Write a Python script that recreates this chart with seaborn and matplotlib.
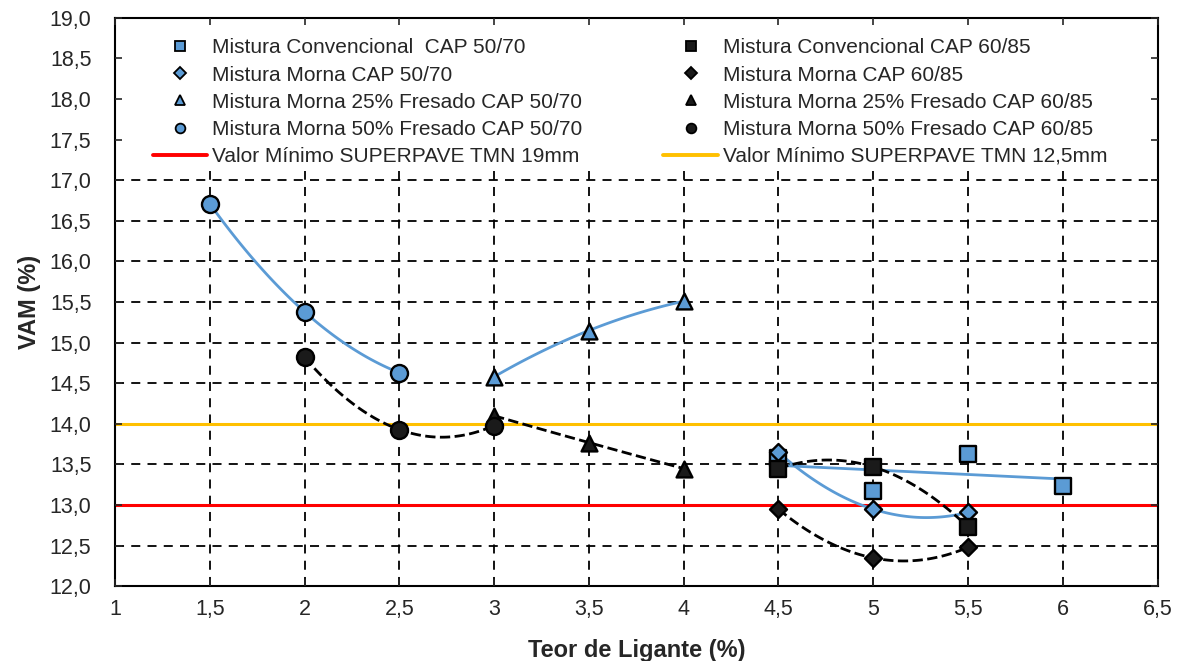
import numpy as np
import pandas as pd
import seaborn as sns
import matplotlib.pyplot as plt
from matplotlib.lines import Line2D
from matplotlib.patches import Rectangle
from matplotlib.ticker import FuncFormatter, MultipleLocator

# values
teor_conv_5070 = [4.5, 5, 5.5, 6]
vam_conv_5070 = [13.58, 13.17, 13.63, 13.24]
teor_5 = [4.5, 5, 5.5]
vam_conv_6085 = [13.45, 13.47, 12.73]
vam_morna_5070 = [13.65, 12.95, 12.91]
vam_morna_6085 = [12.95, 12.35, 12.48]
teor_25 = [3, 3.5, 4]
vam_25_5070 = [14.58, 15.15, 15.51]
vam_25_6085 = [14.10, 13.77, 13.45]
teor_50_5070 = [1.5, 2, 2.5]
vam_50_5070 = [16.71, 15.38, 14.63]
teor_50_6085 = [2, 2.5, 3]
vam_50_6085 = [14.82, 13.93, 13.98]

min_19mm = 13.0
min_125mm = 14.0

BLUE = "#5B9BD5"
DARK = "#1a1a1a"

sns.set_style("ticks")
plt.rcParams["font.family"] = ["Liberation Sans", "DejaVu Sans"]

fig, ax = plt.subplots(figsize=(11.86, 6.61), dpi=100)
plt.subplots_adjust(left=0.097, right=0.976, top=0.973, bottom=0.113)

series = [
    # label, x, y, marker, colour, size, fit order
    ("Mistura Convencional  CAP 50/70", teor_conv_5070, vam_conv_5070, "s", BLUE, 135, 1),
    ("Mistura Morna CAP 50/70", teor_5, vam_morna_5070, "D", BLUE, 75, 2),
    ("Mistura Morna 25% Fresado CAP 50/70", teor_25, vam_25_5070, "^", BLUE, 130, 2),
    ("Mistura Morna 50% Fresado CAP 50/70", teor_50_5070, vam_50_5070, "o", BLUE, 150, 2),
    ("Mistura Convencional CAP 60/85", teor_5, vam_conv_6085, "s", DARK, 135, 2),
    ("Mistura Morna CAP 60/85", teor_5, vam_morna_6085, "D", DARK, 75, 2),
    ("Mistura Morna 25% Fresado CAP 60/85", teor_25, vam_25_6085, "^", DARK, 130, 2),
    ("Mistura Morna 50% Fresado CAP 60/85", teor_50_6085, vam_50_6085, "o", DARK, 150, 2),
]

ax.axhline(min_19mm, color="#FF0000", lw=2.2, zorder=2)
ax.axhline(min_125mm, color="#FFC000", lw=2.2, zorder=2)

for label, x, y, mk, col, s, order in series:
    df = pd.DataFrame({"x": x, "y": y})
    ls = "-" if col == BLUE else "--"
    lc = BLUE if col == BLUE else "black"
    sns.regplot(data=df, x="x", y="y", order=order, ci=None, scatter=False,
                ax=ax, line_kws={"color": lc, "lw": 2, "ls": ls, "zorder": 3})

for label, x, y, mk, col, s, order in series:
    sns.scatterplot(x=x, y=y, marker=mk, s=s, color=col, edgecolor="black",
                    linewidth=1.7, ax=ax, zorder=4)

ax.set_xlim(1, 6.5)
ax.set_ylim(12, 19)
ax.xaxis.set_major_locator(MultipleLocator(0.5))
ax.yaxis.set_major_locator(MultipleLocator(0.5))
ax.xaxis.set_major_formatter(FuncFormatter(lambda v, p: f"{v:g}".replace(".", ",")))
ax.yaxis.set_major_formatter(FuncFormatter(lambda v, p: f"{v:.1f}".replace(".", ",")))
ax.grid(True, color="black", ls=(0, (5, 4)), lw=1.3)
ax.set_axisbelow(True)
ax.tick_params(direction="in", top=True, right=True, length=5, labelsize=15.5,
               width=1.2)
ax.tick_params(axis="x", pad=9)
ax.tick_params(axis="y", pad=17)
for sp in ax.spines.values():
    sp.set_color("black")
    sp.set_linewidth(1.5)

ax.set_xlabel("Teor de Ligante (%)", fontsize=17, fontweight="bold", labelpad=14)
ax.set_ylabel("VAM (%)", fontsize=17, fontweight="bold", labelpad=6)

# white band behind the legend hides the grid there
ax.add_patch(Rectangle((0, 0.73), 1, 0.27, transform=ax.transAxes,
                       facecolor="white", edgecolor="none", zorder=1))

# overlay axes only to keep the inward ticks visible over the white band
tk = fig.add_axes(ax.get_position(), sharex=ax, sharey=ax, facecolor="none")
tk.tick_params(direction="in", top=True, right=True, length=5, width=1.2,
               labelleft=False, labelbottom=False)
tk.grid(False)
for sp in tk.spines.values():
    sp.set_visible(False)
tk.set_zorder(0.5)

handles = []
for label, x, y, mk, col, s, order in series:
    handles.append(Line2D([], [], ls="none", marker=mk, markersize=7 if mk != "D" else 6,
                          markerfacecolor=col, markeredgecolor="black",
                          markeredgewidth=1.3, label=label))
h_red = Line2D([], [], color="#FF0000", lw=2.8, label="Valor Mínimo SUPERPAVE TMN 19mm")
h_yel = Line2D([], [], color="#FFC000", lw=2.8, label="Valor Mínimo SUPERPAVE TMN 12,5mm")
handles = handles[:4] + [h_red] + handles[4:] + [h_yel]

leg = ax.legend(handles=handles, ncol=2, loc="upper left", bbox_to_anchor=(0.02, 0.993),
                fontsize=15, frameon=False, handlelength=2.6, handletextpad=0.25,
                columnspacing=3.9, labelspacing=0.39, borderpad=0.3)
leg.set_zorder(5)

plt.savefig("out.png", dpi=100)
